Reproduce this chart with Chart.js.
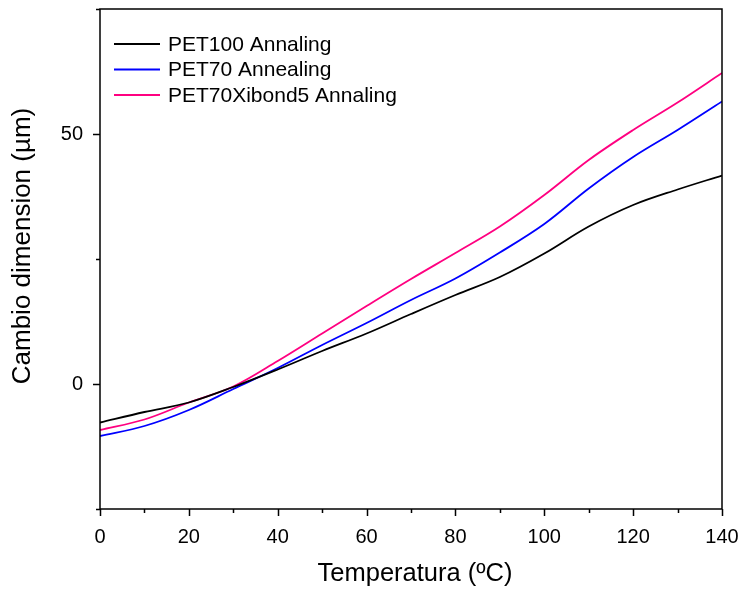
<!DOCTYPE html>
<html>
<head>
<meta charset="utf-8">
<script src="https://cdn.jsdelivr.net/npm/chart.js@4.4.1/dist/chart.umd.min.js"></script>
<style>
  body { margin: 0; background: #fff; }
  #wrap { width: 741px; height: 589px; }
</style>
</head>
<body>
<div id="wrap"><canvas id="dim" width="741" height="589"></canvas></div>
<script>
// temperatures (ºC)
const temps = [0, 10, 20, 30, 40, 50, 60, 70, 80, 90, 100, 110, 120, 130, 140];

// dimension change (µm)
const pet100 = [-7.7, -5.6, -3.7, -0.6, 2.9, 6.6, 10.1, 14.0, 17.8, 21.4, 26.1, 31.5, 35.8, 38.9, 41.7];
const pet70 = [-10.4, -8.4, -5.2, -1.0, 3.2, 7.8, 12.2, 16.8, 21.1, 26.3, 32.0, 39.1, 45.4, 50.8, 56.5];
const pet70xi = [-9.2, -7.1, -3.7, -0.5, 4.6, 10.1, 15.6, 21.0, 26.2, 31.5, 37.8, 44.8, 50.8, 56.3, 62.2];

const xTickLabels = [0, 20, 40, 60, 80, 100, 120, 140];
const yTickLabels = [0, 50];

const xTitle = 'Temperatura (ºC)';
const yTitle = 'Cambio dimension (µm)';

const FONT = "'Liberation Sans', Arial, sans-serif";

function pts(vals) {
    return temps.map(function(t, i) { return {x: t, y: vals[i]}; });
}

function noPad(s) {
    s.paddingLeft = 0;
    s.paddingRight = 0;
    s.paddingTop = 0;
    s.paddingBottom = 0;
}

// frame, outward ticks, axis titles and inside legend
const framePlugin = {
    id: 'frame',
    afterDraw: function(chart) {
        const ctx = chart.ctx;
        const a = chart.chartArea;
        const xs = chart.scales.x;
        const ys = chart.scales.y;
        ctx.save();
        ctx.strokeStyle = '#000';
        ctx.lineWidth = 1.5;
        ctx.strokeRect(a.left, a.top, a.right - a.left, a.bottom - a.top);

        ctx.beginPath();
        for (let v = 0; v <= 140; v += 10) {
            const px = Math.round(xs.getPixelForValue(v)) + 0.5;
            const len = (v % 20 === 0) ? 7 : 4;
            ctx.moveTo(px, a.bottom);
            ctx.lineTo(px, a.bottom + len);
        }
        for (let v = -25; v <= 75; v += 25) {
            const py = Math.round(ys.getPixelForValue(v)) + 0.5;
            const len = (v % 50 === 0) ? 7 : 4;
            ctx.moveTo(a.left, py);
            ctx.lineTo(a.left - len, py);
        }
        ctx.stroke();

        // axis titles
        ctx.fillStyle = '#000';
        ctx.textAlign = 'center';
        ctx.textBaseline = 'middle';
        ctx.font = '25.5px ' + FONT;
        ctx.fillText(xTitle, (a.left + a.right) / 2 + 4, 574);
        ctx.save();
        ctx.translate(23, 246);
        ctx.rotate(-Math.PI / 2);
        ctx.font = '26px ' + FONT;
        ctx.fillText(yTitle, 0, 0);
        ctx.restore();

        // legend
        ctx.font = '21px ' + FONT;
        ctx.textBaseline = 'middle';
        ctx.textAlign = 'left';
        chart.data.datasets.forEach(function(ds, i) {
            const y = 44 + i * 25.5;
            ctx.beginPath();
            ctx.strokeStyle = ds.borderColor;
            ctx.lineWidth = 1.8;
            ctx.moveTo(114, y);
            ctx.lineTo(160, y);
            ctx.stroke();
            ctx.fillText(ds.label, 168, y + 1);
        });
        ctx.restore();
    }
};

function line(label, vals, color) {
    return {
        label: label,
        data: pts(vals),
        borderColor: color,
        borderWidth: 1.8,
        pointRadius: 0,
        fill: false,
        tension: 0.35
    };
}

const chart = new Chart(document.getElementById('dim'), {
    type: 'line',
    data: {
        datasets: [
            line('PET100 Annaling', pet100, '#000000'),
            line('PET70 Annealing', pet70, '#0000ff'),
            line('PET70Xibond5 Annaling', pet70xi, '#ff0080')
        ]
    },
    options: {
        responsive: false,
        animation: false,
        layout: { padding: { top: 9, right: 19, left: 0, bottom: 0 } },
        plugins: {
            legend: { display: false },
            tooltip: { enabled: false }
        },
        scales: {
            x: {
                type: 'linear',
                min: 0,
                max: 140,
                grid: { display: false, drawTicks: false },
                border: { display: false },
                afterBuildTicks: function(s) { s.ticks = xTickLabels.map(function(v) { return {value: v}; }); },
                afterFit: function(s) { s.height = 80; noPad(s); },
                ticks: { color: '#000', padding: 16, maxRotation: 0, font: { family: FONT, size: 20 } }
            },
            y: {
                min: -25,
                max: 75,
                grid: { display: false, drawTicks: false },
                border: { display: false },
                afterBuildTicks: function(s) { s.ticks = yTickLabels.map(function(v) { return {value: v}; }); },
                afterFit: function(s) { s.width = 100; noPad(s); },
                ticks: { color: '#000', padding: 17, font: { family: FONT, size: 20 } }
            }
        }
    },
    plugins: [framePlugin]
});
</script>
</body>
</html>
